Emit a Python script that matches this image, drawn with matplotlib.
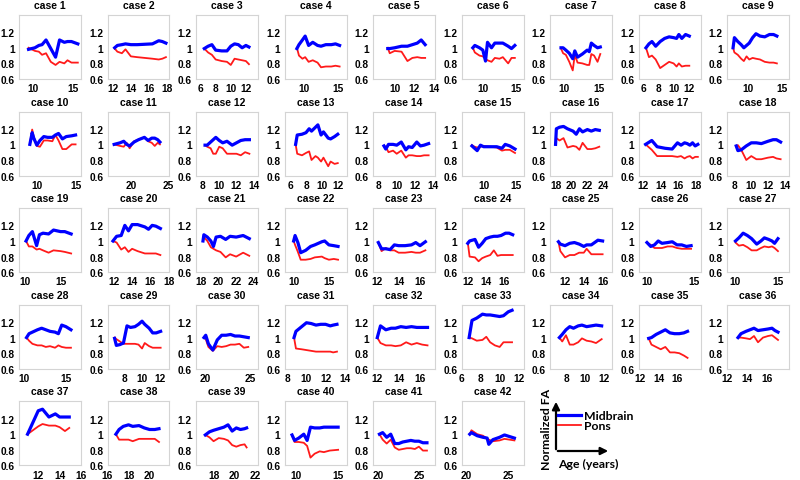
import numpy as np
import matplotlib
matplotlib.use("Agg")
import matplotlib.pyplot as plt

# ages (years) per case, shared by both regions
ages = [
    [9.4, 10.2, 10.7, 11.1, 11.6, 12.2, 12.8, 13.3, 13.9, 14.3, 14.8, 15.6],
    [12.2, 12.5, 13.0, 13.4, 14.0, 14.7, 16.4, 17.1, 17.5, 17.9],
    [6.5, 7.0, 7.5, 8.0, 8.8, 9.5, 10.0, 10.5, 11.0, 11.5, 12.0, 12.4],
    [9.0, 9.3, 9.8, 10.2, 10.7, 11.3, 12.0, 12.5, 13.2, 14.0, 14.6, 15.2],
    [9.3, 9.5, 10.0, 10.7, 11.3, 11.8, 12.3, 12.7, 13.1],
    [8.5, 8.8, 9.5, 10.0, 10.4, 10.7, 11.3, 11.8, 12.5, 13.0, 13.8, 14.3, 14.8],
    [9.5, 9.8, 10.2, 10.7, 11.2, 11.5, 11.9, 12.6, 13.3, 13.6, 13.9, 14.3, 14.8, 15.2],
    [6.3, 6.7, 7.1, 7.6, 8.2, 8.8, 9.4, 10.0, 10.4, 10.7, 11.1, 11.6, 12.1],
    [7.8, 8.0, 8.5, 9.0, 9.4, 9.8, 10.2, 10.7, 11.2, 11.8, 12.5, 13.2, 13.8, 14.3],
    [9.1, 9.4, 9.6, 10.0, 10.4, 10.9, 11.4, 12.0, 12.4, 12.8, 13.3, 13.8, 14.5, 15.0],
    [17.7, 18.5, 19.0, 19.4, 19.8, 20.4, 21.0, 21.8, 22.3, 22.8, 23.2, 23.6, 23.9],
    [8.35, 8.6, 9.0, 9.3, 9.6, 10.0, 10.4, 10.9, 11.5, 12.0, 12.5, 13.0, 13.5],
    [6.7, 6.9, 7.5, 8.0, 8.4, 8.7, 9.2, 9.5, 9.9, 10.2, 10.8, 11.1, 11.6, 12.0],
    [8.6, 8.8, 9.1, 9.6, 10.0, 10.5, 11.0, 11.3, 11.7, 12.2, 12.6, 13.0, 13.5],
    [8.2, 8.6, 9.0, 9.5, 10.0, 11.0, 12.0, 12.8, 13.3, 14.0, 14.8],
    [18.0, 18.1, 18.5, 19.0, 19.5, 20.2, 20.6, 21.0, 21.4, 22.0, 22.5, 23.0, 23.5],
    [12.3, 13.0, 13.6, 14.5, 15.3, 15.9, 16.3, 16.7, 17.0, 17.3, 17.6, 17.9, 18.2],
    [8.2, 8.4, 8.8, 9.4, 10.0, 10.6, 11.2, 12.0, 12.6, 13.0, 13.5],
    [10.1, 10.5, 11.0, 11.6, 12.0, 12.5, 13.3, 14.0, 15.0, 15.6, 16.5],
    [11.9, 12.3, 12.8, 13.2, 13.6, 14.0, 14.6, 15.4, 15.8, 16.2, 16.6, 17.1],
    [18.2, 18.3, 18.7, 19.1, 19.4, 19.7, 20.2, 20.8, 21.3, 22.0, 22.8, 23.5],
    [10.0, 10.2, 10.6, 11.0, 11.7, 12.4, 13.0, 14.0, 14.4, 15.0, 15.7, 16.3],
    [12.1, 12.4, 12.8, 13.2, 13.6, 14.0, 14.6, 15.2, 15.6, 16.0, 16.5],
    [12.0, 12.2, 12.8, 13.2, 13.6, 14.0, 14.5, 14.9, 15.3, 15.7, 16.2, 16.6, 17.0],
    [11.3, 11.5, 12.0, 12.5, 13.0, 13.5, 14.0, 14.3, 14.8, 15.5, 16.0],
    [10.0, 10.4, 10.8, 11.2, 11.6, 12.2, 12.7, 13.2, 13.7, 14.2, 14.7],
    [10.0, 10.4, 10.9, 11.4, 11.9, 12.5, 13.0, 13.4, 13.9, 14.3, 14.6, 15.0],
    [10.3, 10.6, 11.0, 11.6, 12.1, 12.6, 13.1, 13.7, 14.1, 14.5, 15.0, 15.6],
    [6.9, 7.1, 7.5, 7.9, 8.3, 8.7, 9.2, 9.6, 10.0, 10.3, 10.8, 11.2, 11.6, 12.1],
    [19.8, 20.0, 20.3, 20.8, 21.3, 21.8, 22.3, 22.8, 23.3, 23.8, 24.3, 24.8],
    [8.7, 8.9, 9.5, 10.0, 10.5, 11.0, 11.5, 12.0, 12.5, 12.8, 13.2],
    [12.0, 12.3, 12.8, 13.3, 13.7, 14.2, 14.7, 15.2, 15.7, 16.2, 16.7],
    [6.8, 7.1, 7.6, 8.2, 8.6, 9.0, 9.5, 10.0, 10.4, 10.9, 11.3],
    [7.3, 7.6, 8.0, 8.4, 8.8, 9.3, 9.7, 10.2, 10.7, 11.2, 11.8],
    [12.9, 13.2, 13.7, 14.2, 14.7, 15.2, 15.7, 16.2, 16.7, 17.1],
    [13.1, 13.4, 13.9, 14.3, 14.7, 15.1, 15.6, 16.1, 16.5, 16.8, 17.1],
    [11.0, 11.5, 12.0, 12.4, 13.0, 13.6, 14.0, 14.5, 14.9],
    [16.8, 17.1, 17.5, 18.0, 18.4, 19.0, 19.5, 20.0, 20.5, 20.9],
    [17.2, 17.6, 18.0, 18.5, 19.0, 19.4, 19.8, 20.2, 20.6, 21.0, 21.2],
    [9.5, 9.8, 10.3, 10.9, 11.3, 11.7, 12.2, 12.8, 13.3, 14.0, 15.0],
    [20.1, 20.5, 21.0, 21.5, 22.0, 22.5, 23.0, 23.5, 24.0, 24.5, 25.0, 25.5, 26.0],
    [20.4, 20.6, 21.3, 22.0, 22.5, 22.7, 23.2, 24.0, 24.6, 25.2, 25.8],
]

# normalized FA, midbrain
midbrain = [
    [0.98, 1.0, 1.03, 1.04, 1.10, 0.99, 0.88, 1.10, 1.07, 1.08, 1.08, 1.05],
    [1.0, 1.03, 1.04, 1.05, 1.04, 1.04, 1.05, 1.09, 1.08, 1.06],
    [0.99, 1.02, 1.04, 0.97, 0.96, 0.96, 1.02, 1.05, 1.04, 1.0, 1.03, 1.01],
    [0.99, 1.04, 1.10, 1.15, 1.03, 1.07, 1.03, 1.02, 1.04, 1.04, 1.05, 1.03],
    [0.99, 0.99, 1.0, 1.02, 1.02, 1.04, 1.06, 1.10, 1.04],
    [1.0, 1.03, 1.0, 0.97, 0.83, 1.07, 1.0, 1.06, 1.06, 1.06, 1.02, 0.99, 1.03],
    [1.0, 1.0, 0.97, 0.93, 0.86, 0.96, 0.88, 0.92, 0.97, 0.95, 1.06, 1.03, 1.0, 1.01],
    [1.0, 1.05, 1.08, 1.02, 1.08, 1.12, 1.14, 1.13, 1.12, 1.17, 1.12, 1.17, 1.15],
    [1.0, 1.13, 1.08, 1.04, 1.0, 1.03, 1.06, 1.13, 1.18, 1.15, 1.14, 1.17, 1.17, 1.15],
    [1.0, 1.15, 1.08, 0.99, 1.05, 1.10, 1.09, 1.09, 1.12, 1.14, 1.07, 1.10, 1.11, 1.12],
    [1.0, 1.02, 1.04, 1.0, 0.98, 1.03, 1.06, 1.09, 1.05, 1.08, 1.08, 1.06, 1.03],
    [0.99, 0.99, 1.03, 1.06, 1.09, 1.05, 1.02, 1.04, 0.99, 1.02, 1.05, 1.06, 1.06],
    [1.0, 1.12, 1.13, 1.15, 1.20, 1.17, 1.22, 1.25, 1.12, 1.16, 1.08, 1.07, 1.10, 1.13],
    [0.98, 0.94, 1.0, 1.0, 0.99, 1.03, 0.93, 0.97, 0.96, 1.03, 0.98, 0.99, 1.01],
    [0.98, 0.95, 0.92, 0.99, 0.97, 0.97, 0.97, 0.95, 1.0, 0.98, 0.94],
    [1.0, 1.20, 1.22, 1.23, 1.20, 1.17, 1.13, 1.20, 1.16, 1.19, 1.17, 1.19, 1.18],
    [1.0, 1.05, 0.97, 0.95, 0.94, 1.02, 0.99, 1.02, 1.01, 0.99, 1.02, 0.98, 1.0],
    [0.98, 0.92, 0.93, 0.98, 1.02, 1.02, 1.01, 1.04, 1.06, 1.06, 1.03],
    [1.0, 1.07, 1.12, 0.94, 1.08, 1.10, 1.09, 1.14, 1.12, 1.12, 1.09],
    [1.0, 1.06, 1.07, 1.20, 1.13, 1.21, 1.21, 1.18, 1.15, 1.20, 1.19, 1.16],
    [1.0, 1.08, 1.05, 1.0, 0.93, 1.05, 1.06, 1.02, 1.06, 1.05, 1.07, 1.03],
    [1.0, 1.07, 0.98, 0.85, 0.88, 0.93, 0.95, 0.99, 1.0, 0.95, 0.94, 0.93],
    [0.98, 0.90, 0.90, 0.89, 0.95, 0.94, 0.94, 0.95, 0.98, 0.94, 0.99],
    [0.97, 1.0, 1.02, 0.92, 0.97, 1.03, 1.05, 1.06, 1.06, 1.07, 1.10, 1.10, 1.08],
    [0.99, 0.96, 0.94, 0.97, 0.98, 0.96, 0.93, 0.95, 0.95, 1.01, 1.0],
    [0.98, 0.93, 0.95, 1.0, 0.97, 0.98, 0.99, 0.95, 0.95, 0.93, 0.94],
    [1.0, 1.04, 1.10, 1.07, 1.03, 0.96, 1.0, 1.04, 1.02, 1.0, 0.97, 1.03],
    [1.0, 1.05, 1.07, 1.10, 1.12, 1.10, 1.08, 1.07, 1.05, 1.16, 1.14, 1.10],
    [0.99, 0.90, 0.91, 0.93, 1.15, 1.13, 1.14, 1.17, 1.21, 1.17, 1.12, 1.06, 1.06, 1.08],
    [1.0, 1.03, 0.92, 0.84, 0.97, 1.03, 1.03, 1.04, 1.02, 1.02, 1.01, 1.0],
    [1.0, 1.08, 1.14, 1.19, 1.18, 1.16, 1.17, 1.17, 1.15, 1.16, 1.17],
    [1.0, 1.15, 1.10, 1.12, 1.12, 1.14, 1.13, 1.14, 1.13, 1.13, 1.13],
    [1.0, 1.22, 1.25, 1.30, 1.29, 1.29, 1.28, 1.27, 1.28, 1.33, 1.35],
    [1.0, 1.04, 1.10, 1.14, 1.12, 1.15, 1.16, 1.14, 1.15, 1.16, 1.15],
    [0.99, 1.0, 1.04, 1.07, 1.10, 1.06, 1.05, 1.05, 1.06, 1.08],
    [1.0, 1.05, 1.08, 1.10, 1.12, 1.09, 1.10, 1.11, 1.12, 1.09, 1.07],
    [1.0, 1.15, 1.30, 1.32, 1.22, 1.26, 1.22, 1.22, 1.22],
    [1.0, 1.06, 1.10, 1.12, 1.10, 1.11, 1.08, 1.06, 1.06, 1.07],
    [0.99, 1.03, 1.05, 1.07, 1.09, 1.12, 1.04, 1.08, 1.06, 1.07, 1.08],
    [0.99, 0.92, 0.95, 1.0, 0.92, 1.09, 1.08, 1.08, 1.09, 1.09, 1.09],
    [1.0, 1.02, 0.96, 1.0, 0.88, 0.88, 0.90, 0.91, 0.92, 0.91, 0.91, 0.89, 0.89],
    [1.0, 1.02, 0.98, 0.96, 0.95, 0.87, 0.93, 0.96, 0.99, 0.97, 0.95],
]

# normalized FA, pons
pons = [
    [1.0, 0.96, 0.95, 0.91, 0.93, 0.82, 0.78, 0.82, 0.80, 0.84, 0.81, 0.81],
    [0.99, 0.95, 0.93, 0.98, 0.89, 0.88, 0.86, 0.85, 0.86, 0.88],
    [0.99, 0.94, 0.91, 0.85, 0.83, 0.82, 0.78, 0.86, 0.85, 0.84, 0.83, 0.79],
    [1.0, 0.90, 0.86, 0.88, 0.82, 0.84, 0.81, 0.75, 0.76, 0.76, 0.77, 0.76],
    [1.0, 0.93, 0.96, 0.95, 0.83, 0.87, 0.88, 0.87, 0.87],
    [1.0, 0.94, 0.90, 0.89, 0.86, 0.84, 0.82, 0.87, 0.86, 0.88, 0.80, 0.87, 0.87],
    [0.99, 0.93, 0.91, 0.82, 0.71, 0.91, 0.81, 0.80, 0.78, 0.78, 0.92, 0.90, 0.82, 0.92],
    [1.0, 0.88, 0.90, 0.85, 0.74, 0.78, 0.82, 0.80, 0.76, 0.80, 0.76, 0.77, 0.77],
    [1.0, 0.94, 0.91, 0.86, 0.83, 0.89, 0.85, 0.87, 0.86, 0.85, 0.82, 0.81, 0.81, 0.80],
    [1.0, 1.19, 1.10, 0.98, 0.97, 1.05, 1.05, 1.04, 1.12, 1.05, 0.94, 0.94, 1.0, 1.0],
    [1.0, 0.98, 0.97, 1.02, 0.95, 1.04, 1.06, 1.09, 1.04, 1.02, 0.98, 1.02, 1.0],
    [0.99, 0.97, 0.95, 0.88, 0.88, 0.97, 0.95, 0.88, 0.88, 0.88, 0.86, 0.90, 0.88],
    [1.0, 0.88, 0.86, 0.89, 0.91, 0.80, 0.85, 0.83, 0.78, 0.83, 0.72, 0.78, 0.75, 0.76],
    [0.98, 0.97, 0.90, 0.92, 0.88, 0.92, 0.83, 0.86, 0.86, 0.85, 0.85, 0.86, 0.86],
    [0.99, 0.97, 0.96, 0.97, 0.98, 0.97, 0.96, 0.92, 0.93, 0.93, 0.89],
    [1.0, 1.08, 1.05, 1.08, 0.96, 0.98, 0.97, 0.93, 1.02, 0.94, 0.94, 0.95, 0.97],
    [1.0, 0.93, 0.85, 0.85, 0.85, 0.84, 0.85, 0.82, 0.84, 0.85, 0.82, 0.84, 0.84],
    [0.98, 0.99, 0.93, 0.80, 0.85, 0.81, 0.81, 0.83, 0.84, 0.82, 0.81],
    [1.0, 0.93, 0.93, 0.89, 0.90, 0.88, 0.85, 0.88, 0.87, 0.86, 0.84],
    [1.0, 0.98, 0.89, 0.92, 0.86, 0.90, 0.87, 0.84, 0.84, 0.84, 0.84, 0.82],
    [1.0, 1.05, 1.0, 0.92, 0.90, 0.88, 0.86, 0.79, 0.83, 0.80, 0.85, 0.81],
    [1.0, 0.95, 0.86, 0.76, 0.76, 0.77, 0.79, 0.80, 0.78, 0.76, 0.77, 0.76],
    [0.98, 0.87, 0.91, 0.88, 0.88, 0.85, 0.85, 0.86, 0.85, 0.85, 0.88],
    [0.98, 0.80, 0.79, 0.74, 0.78, 0.80, 0.82, 0.88, 0.81, 0.82, 0.82, 0.82, 0.82],
    [0.99, 0.87, 0.79, 0.82, 0.82, 0.85, 0.85, 0.90, 0.83, 0.83, 0.83],
    [0.98, 0.95, 0.91, 0.91, 0.91, 0.93, 0.93, 0.91, 0.90, 0.90, 0.90],
    [0.98, 0.94, 0.95, 0.92, 0.88, 0.88, 0.91, 0.93, 0.92, 0.93, 0.91, 0.87],
    [1.0, 0.96, 0.92, 0.90, 0.90, 0.88, 0.89, 0.87, 0.90, 0.88, 0.87, 0.87],
    [1.0, 0.98, 0.95, 0.92, 0.92, 0.92, 0.92, 0.91, 0.86, 0.93, 0.89, 0.87, 0.87, 0.87],
    [1.0, 0.98, 0.88, 0.83, 0.89, 0.88, 0.89, 0.91, 0.91, 0.92, 0.87, 0.88],
    [1.0, 0.86, 0.85, 0.84, 0.83, 0.82, 0.82, 0.82, 0.82, 0.81, 0.82],
    [1.0, 0.93, 0.90, 0.90, 0.89, 0.90, 0.94, 0.91, 0.93, 0.91, 0.90],
    [1.0, 0.99, 0.96, 0.97, 1.01, 0.94, 0.90, 0.88, 0.94, 0.94, 0.94],
    [1.0, 0.95, 1.03, 0.91, 0.91, 0.94, 0.99, 0.96, 0.95, 0.93, 0.98],
    [0.99, 0.91, 0.88, 0.85, 0.88, 0.81, 0.81, 0.80, 0.77, 0.74],
    [1.0, 1.0, 0.99, 0.98, 1.02, 0.94, 1.0, 1.02, 1.03, 1.0, 0.97],
    [1.0, 1.05, 1.10, 1.13, 1.11, 1.11, 1.09, 1.04, 1.08],
    [1.0, 0.93, 0.93, 0.93, 0.91, 0.94, 0.94, 0.94, 0.94, 0.90],
    [0.99, 0.96, 0.91, 0.95, 0.94, 0.92, 0.86, 0.84, 0.86, 0.87, 0.83],
    [0.99, 0.90, 0.90, 0.89, 0.85, 0.70, 0.75, 0.78, 0.77, 0.79, 0.80],
    [1.0, 0.93, 0.88, 0.93, 0.83, 0.80, 0.81, 0.82, 0.82, 0.81, 0.84, 0.79, 0.79],
    [1.0, 1.05, 1.0, 0.98, 0.94, 0.93, 0.91, 0.92, 0.94, 0.93, 0.92],
]

xlims = [
    (8.2, 16.0), (11.4, 18.3), (5.4, 13.6), (7.2, 16.2), (7.8, 14.1), (6.8, 16.1),
    (7.9, 16.9), (5.3, 13.6), (6.9, 16.1), (7.7, 15.7), (16.8, 25.2), (7.3, 14.5),
    (5.3, 13.1), (7.4, 14.2), (6.6, 16.1), (17.3, 25.1), (11.5, 18.5), (7.1, 14.5),
    (9.1, 17.9), (11.3, 18.1), (17.4, 24.5), (8.7, 17.5), (11.6, 17.4), (11.3, 18.2),
    (10.4, 17.0), (9.1, 15.7), (9.0, 16.3), (9.4, 16.8), (6.1, 13.1), (18.9, 25.9),
    (7.7, 14.2), (11.6, 17.4), (6.0, 12.5), (6.3, 12.9), (11.8, 18.5), (12.0, 18.2),
    (10.2, 16.0), (16.0, 21.9), (16.3, 22.3), (8.6, 16.0), (19.3, 27.0), (19.4, 26.9),
]

xticks = [
    [10, 15], [12, 14, 16, 18], [6, 8, 10, 12], [10, 15], [10, 12, 14], [10, 15],
    [10, 15], [6, 8, 10, 12], [10, 15], [10, 15], [20, 25], [8, 10, 12, 14],
    [6, 8, 10, 12], [8, 10, 12, 14], [10, 15], [18, 20, 22, 24], [12, 14, 16, 18], [8, 10, 12, 14],
    [10, 15], [12, 14, 16, 18], [18, 20, 22, 24], [10, 15], [12, 14, 16], [12, 14, 16],
    [12, 14, 16], [10, 15], [10, 15], [10, 15], [8, 10, 12], [20, 25],
    [8, 10, 12, 14], [12, 14, 16], [6, 8, 10, 12], [8, 10, 12], [12, 14, 16], [12, 14, 16],
    [12, 14, 16], [16, 18, 20], [18, 20, 22], [10, 15], [20, 25], [20, 25],
]

W, H = 800, 481
fig = plt.figure(figsize=(W / 100, H / 100), dpi=100)

lab_font = dict(family="Liberation Sans", weight="bold")

for i in range(len(ages)):
    row, col = divmod(i, 9)
    left = 19 + 88.5 * col
    top = 16 + 96.6 * row
    ax = fig.add_axes([left / W, 1 - (top + 64) / H, 62 / W, 64 / H])
    bl, = ax.plot(ages[i], midbrain[i], color="#0000ff", lw=2.3, zorder=3)
    rl, = ax.plot(ages[i], pons[i], color="#ff1a1a", lw=1.3, zorder=2)
    ax.set_xlim(xlims[i])
    ax.set_ylim(0.6, 1.42)
    ax.set_yticks([0.6, 0.8, 1.0, 1.2])
    ax.set_yticklabels(["0.6", "0.8", "1", "1.2"])
    ax.set_xticks(xticks[i])
    ax.tick_params(length=0, pad=3, labelsize=7.3)
    for lab in ax.get_xticklabels() + ax.get_yticklabels():
        lab.set_fontfamily("Liberation Sans")
        lab.set_fontweight("bold")
    for sp in ax.spines.values():
        sp.set_color("#d4d4d4")
        sp.set_linewidth(0.8)
    ax.set_title("case {}".format(i + 1), fontsize=7.5, pad=5, **lab_font)

# legend block
fig.legend(handles=[bl, rl], labels=["Midbrain", "Pons"],
           loc="upper left", bbox_to_anchor=(558 / W, 1 - 411 / H),
           frameon=False, handlelength=1.9, handletextpad=0.25,
           labelspacing=-0.05, borderpad=0, borderaxespad=0,
           prop=dict(family="Lato", size=8.8, weight="bold"))

arrow = dict(arrowstyle="-|>", color="black", lw=1.6, mutation_scale=11)
fig.add_artist(matplotlib.patches.FancyArrowPatch((556 / W, 1 - 453 / H), (556 / W, 1 - 400 / H),
                                                  transform=fig.transFigure, **arrow))
fig.add_artist(matplotlib.patches.FancyArrowPatch((555 / W, 1 - 452 / H), (611 / W, 1 - 452 / H),
                                                  transform=fig.transFigure, **arrow))
fig.text(547 / W, 1 - 429 / H, "Normalized FA", rotation=90, ha="center", va="center",
         fontsize=8.8, family="Lato", weight="bold")
fig.text(588 / W, 1 - 464 / H, "Age (years)", ha="center", va="center",
         fontsize=8.8, family="Lato", weight="bold")

fig.savefig("out.png", dpi=100)
